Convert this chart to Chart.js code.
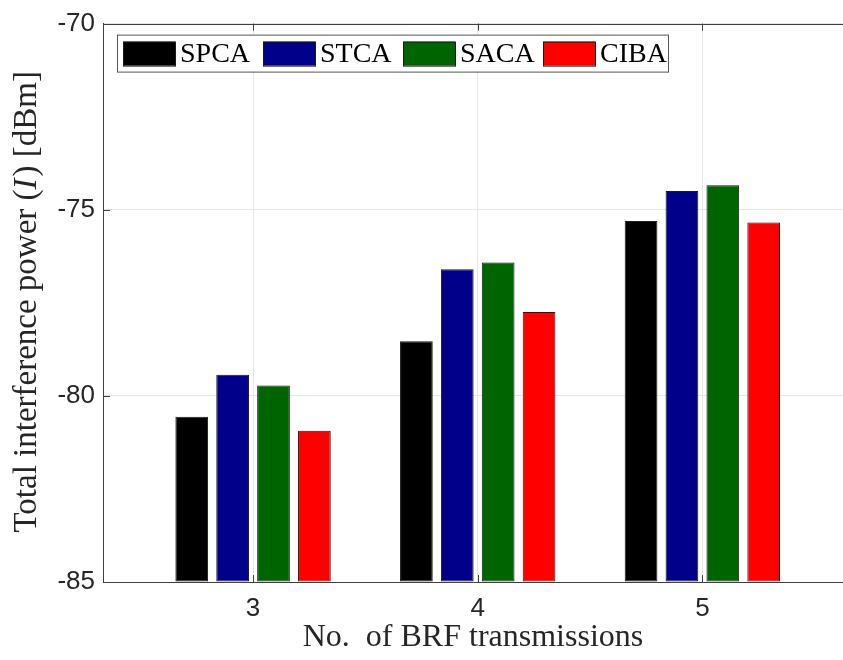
<!DOCTYPE html>
<html lang="en">
<head>
<meta charset="UTF-8">
<title>Total interference power vs. BRF transmissions</title>
<script src="https://cdn.jsdelivr.net/npm/chart.js"></script>
<style>
  html, body { margin: 0; padding: 0; background: #fff; }
</style>
</head>
<body>
<canvas id="chart" width="843" height="660"></canvas>
<script>
// data
const transmissions = [3, 4, 5];
const seriesNames = ['SPCA', 'STCA', 'SACA', 'CIBA'];
const spca = [-80.56, -78.53, -75.30];
const stca = [-79.43, -76.60, -74.50];
const saca = [-79.72, -76.42, -74.34];
const ciba = [-80.94, -77.75, -75.34];
const yTicks = [-85, -80, -75, -70];
const seriesColors = ['#000000', '#00008b', '#006400', '#ff0000'];

const axisColor = '#404040';
const textColor = '#262626';
const serif = "'Liberation Serif', 'Times New Roman', serif";
const sans = "'Liberation Sans', Arial, sans-serif";

const series = [spca, stca, saca, ciba];
const datasets = series.map((vals, i) => ({
    label: seriesNames[i],
    data: transmissions.map((x, j) => ({ x: x, y: vals[j] })),
    backgroundColor: seriesColors[i],
    borderColor: '#1a1a1a',
    borderWidth: 1,
    borderSkipped: false,
    base: -85,
    categoryPercentage: 0.728,
    barPercentage: 0.80
}));

// box top edge + inward tick marks like matlab
const axesExtras = {
    id: 'axesExtras',
    beforeDatasetsDraw(chart) {
        const { ctx, chartArea: a, scales } = chart;
        ctx.save();
        ctx.strokeStyle = axisColor;
        ctx.lineWidth = 1;
        ctx.beginPath();
        transmissions.forEach(v => {
            const x = Math.round(scales.x.getPixelForValue(v)) + 0.5;
            ctx.moveTo(x, a.bottom); ctx.lineTo(x, a.bottom - 7);
            ctx.moveTo(x, a.top); ctx.lineTo(x, a.top + 7);
        });
        yTicks.forEach(v => {
            const y = Math.round(scales.y.getPixelForValue(v)) + 0.5;
            ctx.moveTo(a.left, y); ctx.lineTo(a.left + 7, y);
        });
        ctx.stroke();
        ctx.restore();
    },
    afterDraw(chart) {
        const { ctx, chartArea: a } = chart;
        ctx.save();
        ctx.strokeStyle = axisColor;
        ctx.lineWidth = 1;
        ctx.beginPath();
        ctx.moveTo(a.left, Math.round(a.top) + 0.5);
        ctx.lineTo(a.right, Math.round(a.top) + 0.5);
        ctx.stroke();

        // y title with italic I
        const parts = [
            ['Total interference power (', 'normal'],
            ['I', 'italic'],
            [') [dBm]', 'normal']
        ];
        const size = 33;
        let total = 0;
        parts.forEach(p => {
            ctx.font = p[1] + ' ' + size + 'px ' + serif;
            total += ctx.measureText(p[0]).width;
        });
        ctx.translate(27, (a.top + a.bottom) / 2);
        ctx.rotate(-Math.PI / 2);
        ctx.fillStyle = textColor;
        ctx.textBaseline = 'middle';
        let x = -total / 2;
        parts.forEach(p => {
            ctx.font = p[1] + ' ' + size + 'px ' + serif;
            ctx.fillText(p[0], x, 0);
            x += ctx.measureText(p[0]).width + (p[1] === 'italic' ? 2 : 0);
        });
        ctx.restore();

        // legend inside the axes
        ctx.save();
        const lx = a.left + 14, ly = a.top + 11;
        ctx.fillStyle = '#fff';
        ctx.fillRect(lx, ly, 551, 37);
        ctx.strokeStyle = '#555';
        ctx.strokeRect(lx + 0.5, ly + 0.5, 551, 37);
        ctx.font = '28px ' + serif;
        ctx.textBaseline = 'middle';
        chart.data.datasets.forEach((ds, i) => {
            const sx = lx + 6 + i * 140;
            ctx.fillStyle = ds.backgroundColor;
            ctx.fillRect(sx, ly + 7, 52, 24);
            ctx.strokeStyle = '#1a1a1a';
            ctx.strokeRect(sx + 0.5, ly + 7.5, 52, 24);
            ctx.fillStyle = '#000';
            ctx.fillText(ds.label, sx + 57, ly + 20);
        });
        ctx.restore();
    }
};

new Chart(document.getElementById('chart'), {
    type: 'bar',
    data: { datasets: datasets },
    options: {
        responsive: false,
        animation: false,
        layout: { padding: { top: 20, right: 0, left: 0, bottom: 0 } },
        plugins: {
            legend: { display: false },
            tooltip: { enabled: false }
        },
        scales: {
            x: {
                type: 'linear',
                offset: false,
                min: 2.332,
                max: 5.626,
                afterBuildTicks: s => { s.ticks = transmissions.map(v => ({ value: v })); },
                afterFit: s => { s.height = 78; },
                grid: { color: '#e6e6e6', drawTicks: false, offset: false },
                border: { color: axisColor },
                ticks: { color: textColor, font: { family: sans, size: 26 }, padding: 11 },
                title: {
                    display: true,
                    text: 'No.  of BRF transmissions',
                    color: textColor,
                    font: { family: serif, size: 32 },
                    padding: { top: 0, bottom: 3 }
                }
            },
            y: {
                min: -85,
                max: -70,
                afterBuildTicks: s => { s.ticks = yTicks.map(v => ({ value: v })); },
                afterFit: s => { s.width = 103; },
                grid: { color: '#e6e6e6', drawTicks: false },
                border: { color: axisColor },
                ticks: { color: textColor, font: { family: sans, size: 26 }, padding: 8 }
            }
        }
    },
    plugins: [axesExtras]
});
</script>
</body>
</html>
